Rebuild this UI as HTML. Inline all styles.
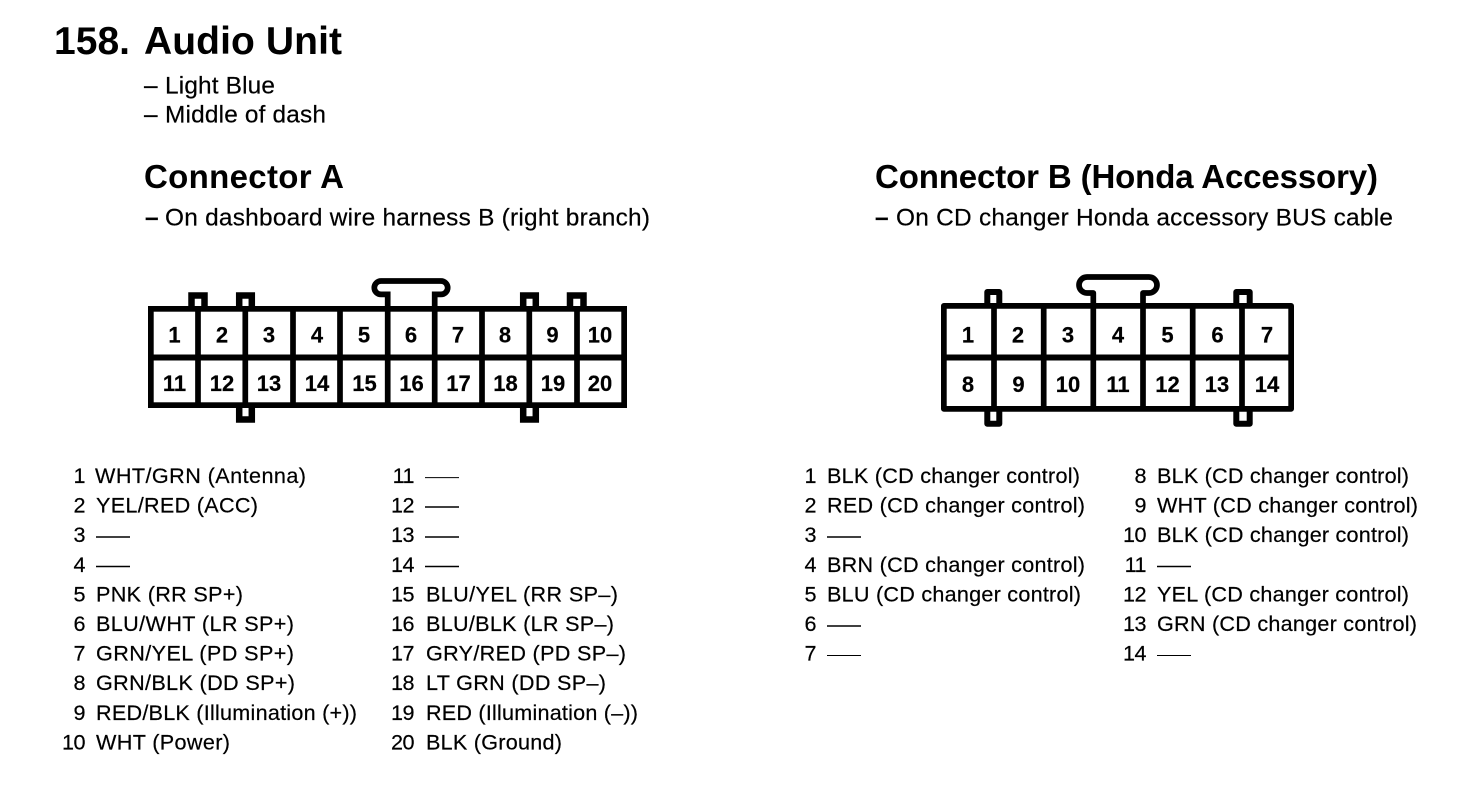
<!DOCTYPE html>
<html><head><meta charset="utf-8"><style>
html,body{margin:0;padding:0;background:#fff}
svg{display:block}
text{font-family:"Liberation Sans",sans-serif;fill:#000}
.t{font-weight:bold;font-size:39px}
.h{font-weight:bold;font-size:33px}
.s{font-size:24.4px;stroke:#000;stroke-width:.2}
.l{font-size:21.6px;stroke:#000;stroke-width:.2}
.n{font-size:21.6px;text-anchor:end;letter-spacing:-.5px;stroke:#000;stroke-width:.2}
.p{font-weight:bold;font-size:22px;text-anchor:middle;stroke:#000;stroke-width:.2}
</style></head><body>
<svg width="1472" height="790" viewBox="0 0 1472 790" xmlns="http://www.w3.org/2000/svg">
<rect width="1472" height="790" fill="#fff"/>
<text class="t" x="54" y="54" textLength="76">158.</text>
<text class="t" x="144" y="54" textLength="198">Audio Unit</text>
<text class="s" x="144" y="93.5">–</text>
<text class="s" x="165" y="93.5" textLength="110">Light Blue</text>
<text class="s" x="144" y="122.5">–</text>
<text class="s" x="165" y="122.5" textLength="161">Middle of dash</text>

<text class="h" x="144" y="188" textLength="200">Connector A</text>
<text class="s" x="145" y="225.5" style="font-weight:bold">–</text>
<text class="s" x="165" y="225.5" textLength="485">On dashboard wire harness B (right branch)</text>
<text class="h" x="875" y="188" textLength="503">Connector B (Honda Accessory)</text>
<text class="s" x="875" y="225.5" style="font-weight:bold">–</text>
<text class="s" x="896" y="225.5" textLength="497">On CD changer Honda accessory BUS cable</text>

<!-- Connector A -->
<g stroke="#000" fill="none">
<g stroke-width="6.5">
<path d="M191.5 306V295.5H204.5V306M239.2 306V295.5H251.8V306M523.2 306V295.5H535.8V306M570 306V295.5H583.5V306"/>
<path d="M239.2 408V419.5H251.8V408M523.2 408V419.5H535.8V408"/>
</g>
<g stroke-width="5.7">
<path d="M387.7 308V294.4H381A6.7 6.7 0 0 1 381 281H441A6.7 6.7 0 0 1 441 294.4H434.7V308"/>
<rect x="150.85" y="308.85" width="473.3" height="96.3"/>
<path d="M198 308V406M245.3 308V406M293 308V406M340 308V406M387.7 308V406M434.7 308V406M482 308V406M529.3 308V406M577 308V406"/>
<path d="M150 357.5H625" stroke-width="6"/>
</g>
</g>
<g>
<text class="p" x="174.5" y="342.5">1</text><text class="p" x="222" y="342.5">2</text><text class="p" x="269" y="342.5">3</text><text class="p" x="317" y="342.5">4</text><text class="p" x="364" y="342.5">5</text><text class="p" x="411" y="342.5">6</text><text class="p" x="458" y="342.5">7</text><text class="p" x="505" y="342.5">8</text><text class="p" x="552.5" y="342.5">9</text><text class="p" x="600" y="342.5">10</text>
<text class="p" x="174.5" y="391">11</text><text class="p" x="222" y="391">12</text><text class="p" x="269" y="391">13</text><text class="p" x="317" y="391">14</text><text class="p" x="364.5" y="391">15</text><text class="p" x="411.5" y="391">16</text><text class="p" x="458.5" y="391">17</text><text class="p" x="505.5" y="391">18</text><text class="p" x="553" y="391">19</text><text class="p" x="600" y="391">20</text>
</g>

<!-- Connector B -->
<g stroke="#000" fill="none" stroke-linejoin="round">
<g stroke-width="6">
<path d="M987.3 305V292H999.3V305M1236.3 305V292H1249.7V305"/>
<path d="M987.3 410V423.7H999.3V410M1236.3 410V423.7H1249.7V410"/>
</g>
<g stroke-width="5.7">
<path d="M1093.3 306V293H1087A7.5 7.5 0 0 1 1087 277H1149A7.5 7.5 0 0 1 1149 293H1143V306"/>
<rect x="943.85" y="305.85" width="347.3" height="103"/>
<path d="M994 306V409M1043.7 306V409M1093.3 306V409M1143 306V409M1192.7 306V409M1242 306V409"/>
<path d="M943 357.5H1292" stroke-width="6"/>
</g>
</g>
<g>
<text class="p" x="968" y="342.5">1</text><text class="p" x="1018" y="342.5">2</text><text class="p" x="1068" y="342.5">3</text><text class="p" x="1118" y="342.5">4</text><text class="p" x="1167.5" y="342.5">5</text><text class="p" x="1217.5" y="342.5">6</text><text class="p" x="1267" y="342.5">7</text>
<text class="p" x="968" y="392">8</text><text class="p" x="1018.5" y="392">9</text><text class="p" x="1068" y="392">10</text><text class="p" x="1118" y="392">11</text><text class="p" x="1167.5" y="392">12</text><text class="p" x="1217" y="392">13</text><text class="p" x="1267" y="392">14</text>
</g>

<!-- Left list, col 1 -->
<text class="n" x="85" y="483">1</text><text class="l" x="95" y="483" textLength="211">WHT/GRN (Antenna)</text>
<text class="n" x="85" y="512.6">2</text><text class="l" x="96" y="512.6" textLength="162">YEL/RED (ACC)</text>
<text class="n" x="85" y="542.2">3</text>
<text class="n" x="85" y="571.8">4</text>
<text class="n" x="85" y="601.4">5</text><text class="l" x="96" y="601.4" textLength="147">PNK (RR SP+)</text>
<text class="n" x="85" y="631">6</text><text class="l" x="96" y="631" textLength="198">BLU/WHT (LR SP+)</text>
<text class="n" x="85" y="660.6">7</text><text class="l" x="96" y="660.6" textLength="198">GRN/YEL (PD SP+)</text>
<text class="n" x="85" y="690.2">8</text><text class="l" x="96" y="690.2" textLength="199">GRN/BLK (DD SP+)</text>
<text class="n" x="85" y="719.8">9</text><text class="l" x="96" y="719.8" textLength="261">RED/BLK (Illumination (+))</text>
<text class="n" x="85" y="749.4">10</text><text class="l" x="96" y="749.4" textLength="134">WHT (Power)</text>
<!-- Left list, col 2 -->
<text class="n" x="414" y="483">11</text>
<text class="n" x="414" y="512.6">12</text>
<text class="n" x="414" y="542.2">13</text>
<text class="n" x="414" y="571.8">14</text>
<text class="n" x="414" y="601.4">15</text><text class="l" x="426" y="601.4" textLength="192">BLU/YEL (RR SP–)</text>
<text class="n" x="414" y="631">16</text><text class="l" x="426" y="631" textLength="188">BLU/BLK (LR SP–)</text>
<text class="n" x="414" y="660.6">17</text><text class="l" x="426" y="660.6" textLength="200">GRY/RED (PD SP–)</text>
<text class="n" x="414" y="690.2">18</text><text class="l" x="426" y="690.2" textLength="180">LT GRN (DD SP–)</text>
<text class="n" x="414" y="719.8">19</text><text class="l" x="426" y="719.8" textLength="212">RED (Illumination (–))</text>
<text class="n" x="414" y="749.4">20</text><text class="l" x="426" y="749.4" textLength="136">BLK (Ground)</text>
<!-- Right list, col 1 -->
<text class="n" x="816" y="483">1</text><text class="l" x="827" y="483" textLength="253">BLK (CD changer control)</text>
<text class="n" x="816" y="512.6">2</text><text class="l" x="827" y="512.6" textLength="258">RED (CD changer control)</text>
<text class="n" x="816" y="542.2">3</text>
<text class="n" x="816" y="571.8">4</text><text class="l" x="827" y="571.8" textLength="258">BRN (CD changer control)</text>
<text class="n" x="816" y="601.4">5</text><text class="l" x="827" y="601.4" textLength="254">BLU (CD changer control)</text>
<text class="n" x="816" y="631">6</text>
<text class="n" x="816" y="660.6">7</text>
<!-- Right list, col 2 -->
<text class="n" x="1146" y="483">8</text><text class="l" x="1157" y="483" textLength="252">BLK (CD changer control)</text>
<text class="n" x="1146" y="512.6">9</text><text class="l" x="1157" y="512.6" textLength="261">WHT (CD changer control)</text>
<text class="n" x="1146" y="542.2">10</text><text class="l" x="1157" y="542.2" textLength="252">BLK (CD changer control)</text>
<text class="n" x="1146" y="571.8">11</text>
<text class="n" x="1146" y="601.4">12</text><text class="l" x="1157" y="601.4" textLength="252">YEL (CD changer control)</text>
<text class="n" x="1146" y="631">13</text><text class="l" x="1157" y="631" textLength="260">GRN (CD changer control)</text>
<text class="n" x="1146" y="660.6">14</text>
<!-- Dashes -->
<g stroke="#000" stroke-width="1.6">
<path d="M96 537H130M96 566.5H130"/>
<path d="M425 477.6H459" stroke-width="1"/>
<path d="M425 507H459M425 537H459M425 566.5H459"/>
<path d="M827 537H861M827 626H861"/>
<path d="M827 655.5H861" stroke-width="1"/>
<path d="M1157 566.5H1191"/>
<path d="M1157 655.5H1191" stroke-width="1"/>
</g>
</svg>
</body></html>
